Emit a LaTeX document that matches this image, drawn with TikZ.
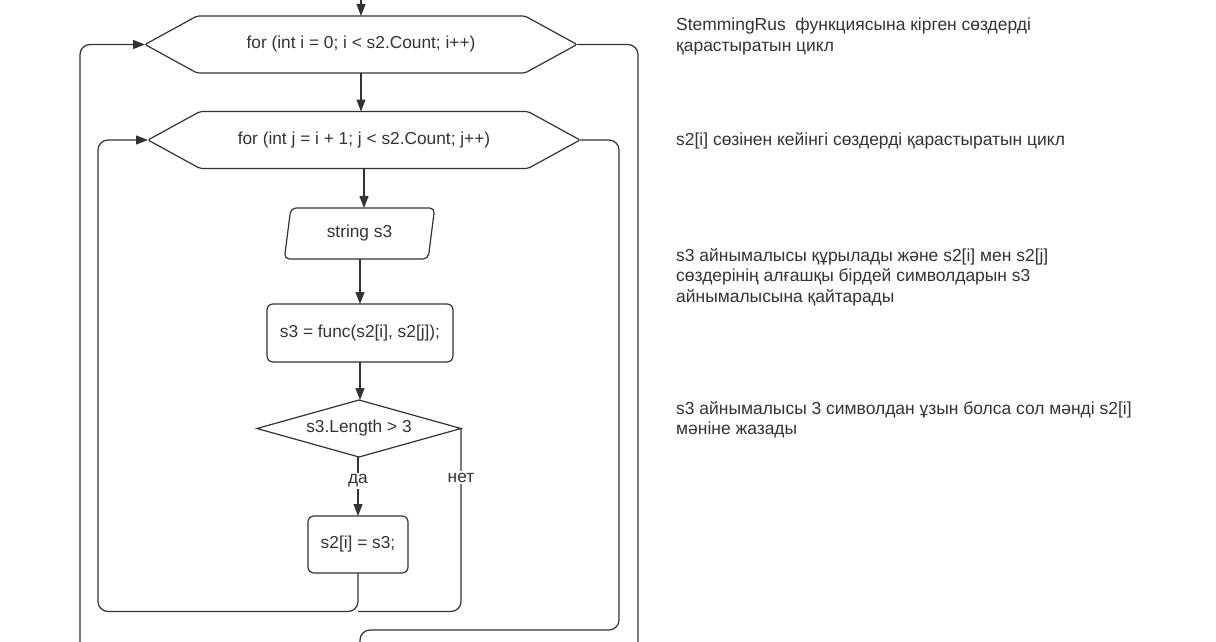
\documentclass[tikz,border=0pt]{standalone}
\usepackage{fontspec}
\setmainfont{Liberation Sans}
\usetikzlibrary{arrows.meta,shapes.geometric}
\definecolor{ln}{HTML}{333333}
\definecolor{tx}{HTML}{333333}
\begin{document}
\begin{tikzpicture}[x=1pt,y=-1pt,
  every node/.style={font=\fontsize{17.3}{20.5}\selectfont, text=tx},
  line/.style={draw=ln, line width=1.2pt},
  arr/.style={line, -{Triangle[length=12pt,width=9pt]}},
  loopline/.style={line, rounded corners=10pt},
  looparr/.style={arr, rounded corners=10pt},
  hexbox/.style={rectangle, inner sep=0pt, outer sep=0pt, minimum width=432, minimum height=57},
  hexline/.style={line, rounded corners=2pt},
  procbox/.style={rectangle, draw=ln, line width=1.2pt, rounded corners=6pt, inner sep=0pt, outer sep=0pt},
  iobox/.style={trapezium, trapezium left angle=79, trapezium right angle=101, trapezium stretches=true,
     draw=ln, line width=1.2pt, rounded corners=5pt, inner sep=0pt, outer sep=0pt, minimum width=151, minimum height=51},
  decbox/.style={diamond, draw=ln, line width=1.2pt, inner sep=0pt, outer sep=0pt, aspect=3.56, minimum width=204, minimum height=57},
  lbl/.style={fill=white, inner sep=1.5pt},
  note/.style={anchor=base west, align=left, inner sep=0pt, font=\fontsize{17.45}{20.5}\selectfont}
]
\useasboundingbox (0,0) rectangle (1216,642);
\fill[white] (0,0) rectangle (1216,642);

% nodes
\node[hexbox] (h1) at (361,44.5) {for (int i = 0; i < s2.Count; i++)};
\node[hexbox] (h2) at (364,140) {for (int j = i + 1; j < s2.Count; j++)};
\node[iobox] (par) at (359.5,233.5) {string s3};
\node[procbox, minimum width=186, minimum height=58] (func) at (360,333) {s3 = func(s2[i], s2[j]);};
\node[decbox] (dec) at (359,428.5) {s3.Length > 3};
\node[procbox, minimum width=100, minimum height=57] (asg) at (358,544.5) {s2[i] = s3;};

% hexagon outlines
\draw[hexline] (h1.west) -- ([xshift=52pt]h1.north west) -- ([xshift=-52pt]h1.north east) -- (h1.east)
  -- ([xshift=-52pt]h1.south east) -- ([xshift=52pt]h1.south west) -- cycle;
\draw[hexline] (h2.west) -- ([xshift=52pt]h2.north west) -- ([xshift=-52pt]h2.north east) -- (h2.east)
  -- ([xshift=-52pt]h2.south east) -- ([xshift=52pt]h2.south west) -- cycle;

% free ends
\coordinate (topin) at (361,0);
\coordinate (outleft) at (80,642);
\coordinate (outright) at (638,642);
\coordinate (outmid) at (360,642);
\coordinate (botA) at (98,611.5);
\coordinate (botB) at (619,630);

% straight arrows
\draw[arr] (topin) -- (h1.north);
\draw[arr] (h1.south) -- (h1.south |- h2.north);
\draw[arr] (h2.south) -- (h2.south |- par.north);
\draw[arr] (par.south -| func.north) -- (func.north);
\draw[arr] (func.south) -- (func.south |- dec.north);
\draw[arr] (dec.south -| asg.north) -- (asg.north);

% loops
\draw[looparr] (asg.south) -- (asg.south |- botA) -- (botA) -- (botA |- h2.west) -- (h2.west);
\draw[loopline] (dec.east) -- (dec.east |- botA) -- (asg.south |- botA);
\draw[loopline] (h2.east) -- (botB |- h2.east) -- (botB) -- (outmid |- botB) -- (outmid);
\draw[loopline] (h1.east) -- (outright |- h1.east) -- (outright);
\draw[looparr] (outleft) -- (outleft |- h1.west) -- (h1.west);

% branch labels
\node[lbl] (yes) at (358,481) {да};
\node[lbl] (no) at ([yshift=-49pt]dec.east) {нет};

% notes (anchored at the baseline of their last line)
\node[note] (n1) at (676,51.2) {StemmingRus\ \ функциясына кірген сөздерді\\қарастыратын цикл};
\node[note] (n2) at (676,145) {s2[i] сөзінен кейінгі сөздерді қарастыратын цикл};
\node[note] (n3) at (676,302) {s3 айнымалысы құрылады және s2[i] мен s2[j]\\сөздерінің алғашқы бірдей символдарын s3\\айнымалысына қайтарады};
\node[note] (n4) at (676,434.5) {s3 айнымалысы 3 символдан ұзын болса сол мәнді s2[i]\\мәніне жазады};
\end{tikzpicture}
\end{document}
